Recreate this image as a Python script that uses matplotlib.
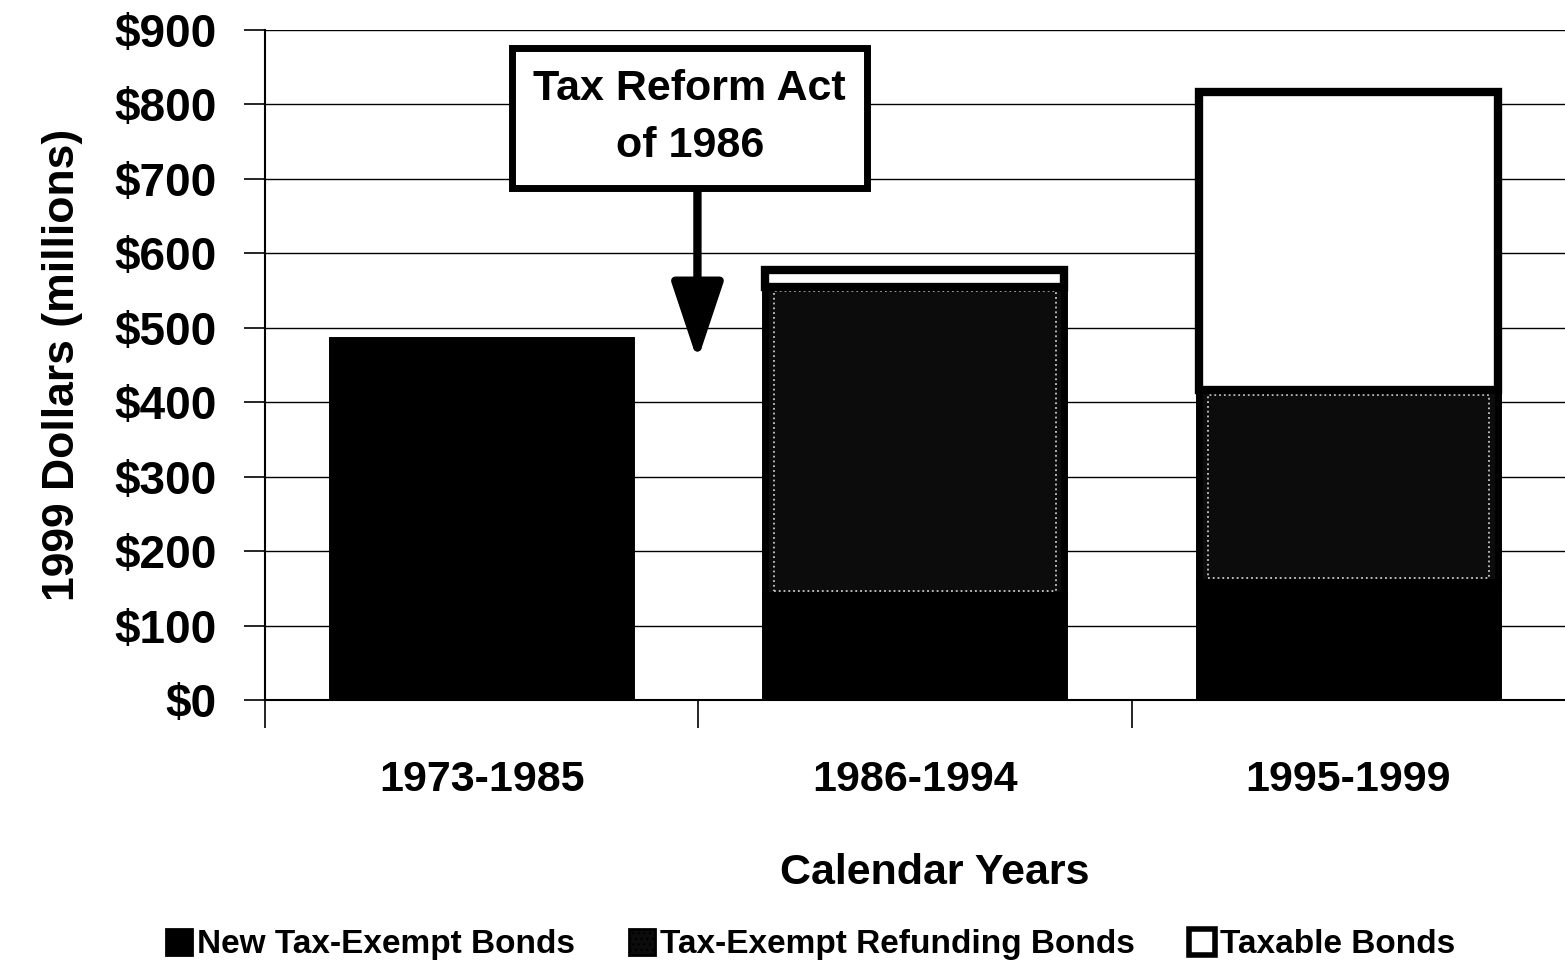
import matplotlib
matplotlib.use("Agg")
import matplotlib.pyplot as plt
from matplotlib.patches import Patch
import numpy as np

plt.rcParams["font.family"] = ["Liberation Sans Narrow", "Liberation Sans", "DejaVu Sans"]
plt.rcParams["font.weight"] = "bold"
plt.rcParams["hatch.color"] = "#bbbbbb"

# data (1999 dollars, millions)
periods = ["1973-1985", "1986-1994", "1995-1999"]
new_exempt = [484, 141, 158]
refunding = [0, 414, 258]
taxable = [0, 23, 401]
series_names = ["New Tax-Exempt Bonds", "Tax-Exempt Refunding Bonds", "Taxable Bonds"]
y_ticks = [0, 100, 200, 300, 400, 500, 600, 700, 800, 900]

x = np.arange(len(periods))
new_exempt = np.array(new_exempt)
refunding = np.array(refunding)
taxable = np.array(taxable)
width = 0.69

fig = plt.figure(figsize=(15.65, 9.71), dpi=100)
ax = fig.add_axes([0.1693, 0.2791, 0.8307, 0.6900])

ax.set_axisbelow(True)
ax.grid(axis="y", color="black", linewidth=1.0)

ax.bar(x, new_exempt, width, color="black", edgecolor="black", linewidth=5)
has_ref = refunding > 0
ax.bar(x[has_ref], refunding[has_ref], width, bottom=new_exempt[has_ref],
       color="#0c0c0c", edgecolor="black", linewidth=5)
# speckled light rim inside the refunding blocks
ax.bar(x[has_ref], refunding[has_ref] - 12, width * 0.94, bottom=new_exempt[has_ref] + 6,
       facecolor="none", edgecolor="#c8c8c8", linewidth=1.3, linestyle=":")
has_tax = taxable > 0
ax.bar(x[has_tax], taxable[has_tax], width, bottom=(new_exempt + refunding)[has_tax],
       color="white", edgecolor="black", linewidth=6)

ax.set_xlim(-0.5, 2.5)
ax.set_ylim(0, 900)
ax.set_yticks(y_ticks)
ax.set_yticklabels([f"${v}" for v in y_ticks])
ax.set_xticks(x)
ax.set_xticklabels(periods)
ax.set_xticks([-0.5, 0.5, 1.5], minor=True)
ax.tick_params(axis="x", which="major", length=0, pad=43, labelsize=31)
ax.tick_params(axis="x", which="minor", length=20, width=1.2)
ax.tick_params(axis="y", length=15, width=1.2, pad=20, labelsize=33)

for s in ["top", "right"]:
    ax.spines[s].set_visible(False)
ax.spines["left"].set_linewidth(1.5)
ax.spines["bottom"].set_linewidth(1.5)

ax.set_ylabel("1999 Dollars (millions)", fontsize=32, fontweight="bold", labelpad=22)
ax.set_xlabel("Calendar Years", fontsize=31, fontweight="bold")
ax.xaxis.set_label_coords(0.515, -0.228)

# annotation box + arrow
ax.text(0.48, 782, "Tax Reform Act\nof 1986", ha="center", va="center", fontsize=31,
        fontweight="bold", linespacing=1.55,
        bbox=dict(boxstyle="square,pad=0.5", fc="white", ec="black", lw=5))
ax.annotate("", xy=(0.498, 456), xytext=(0.498, 684),
            arrowprops=dict(arrowstyle="-|>,head_length=1.2,head_width=0.4",
                            lw=6, color="black", mutation_scale=40, shrinkA=0, shrinkB=0))

handles = [
    Patch(facecolor="black", edgecolor="black", linewidth=2),
    Patch(facecolor="#0c0c0c", edgecolor="black", linewidth=2, hatch="..."),
    Patch(facecolor="white", edgecolor="black", linewidth=4),
]
fig.legend(handles, series_names, loc="center", bbox_to_anchor=(0.518, 0.027), ncol=3,
           frameon=False, fontsize=24, handlelength=0.8, handleheight=0.8,
           handletextpad=0.15, columnspacing=1.6)

fig.savefig("out.png", dpi=100)
